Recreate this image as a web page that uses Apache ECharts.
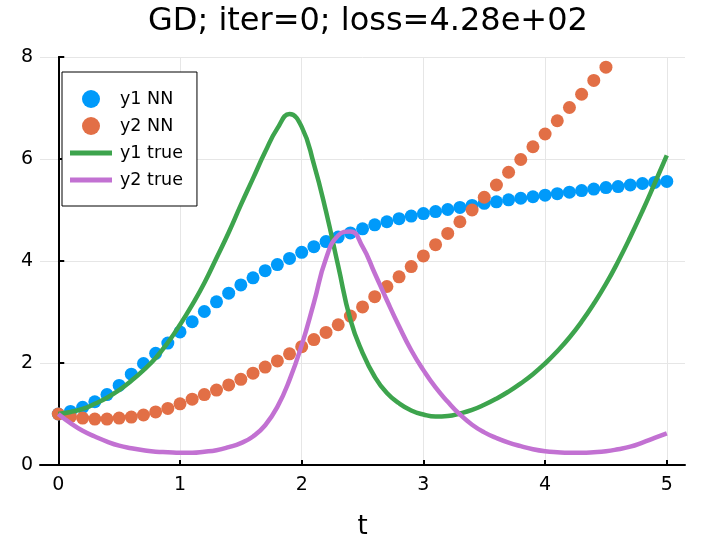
<!DOCTYPE html>
<html>
<head>
<meta charset="utf-8">
<script src="https://cdn.jsdelivr.net/npm/echarts@6/dist/echarts.min.js"></script>
<style>html,body{margin:0;padding:0;background:#fff;}#c{width:720px;height:540px;}</style>
</head>
<body>
<div id="c"></div>
<script>
// Time points
var tValues = [0,0.1,0.2,0.3,0.4,0.5,0.6,0.7,0.8,0.9,1,1.1,1.2,1.3,1.4,1.5,1.6,1.7,1.8,1.9,2,2.1,2.2,2.3,2.4,2.5,2.6,2.7,2.8,2.9,3,3.1,3.2,3.3,3.4,3.5,3.6,3.7,3.8,3.9,4,4.1,4.2,4.3,4.4,4.5,4.6,4.7,4.8,4.9,5];
// y1 NN (blue dots)
var y1NN = [1.0,1.05,1.13,1.24,1.38,1.56,1.78,1.99,2.19,2.39,2.61,2.81,3.01,3.2,3.37,3.53,3.67,3.81,3.93,4.05,4.17,4.28,4.38,4.47,4.55,4.63,4.71,4.77,4.83,4.88,4.93,4.97,5.01,5.05,5.09,5.13,5.16,5.2,5.23,5.26,5.29,5.32,5.35,5.38,5.41,5.44,5.46,5.49,5.52,5.54,5.56];
// y2 NN (orange dots) - visible up to t=4.5 (rest above the y range)
var y2NN = [1.0,0.95,0.92,0.9,0.9,0.92,0.94,0.98,1.04,1.11,1.2,1.29,1.38,1.47,1.57,1.68,1.8,1.92,2.04,2.18,2.32,2.46,2.6,2.75,2.92,3.1,3.3,3.5,3.69,3.89,4.1,4.32,4.54,4.77,5.0,5.25,5.49,5.74,5.99,6.24,6.49,6.75,7.01,7.27,7.54,7.8];
// y1 true (green line)
var y1True = [1.0,1.04,1.1,1.2,1.32,1.47,1.65,1.86,2.1,2.4,2.75,3.14,3.57,4.06,4.56,5.1,5.62,6.14,6.6,6.88,6.63,5.9,4.97,3.9,2.85,2.2,1.73,1.41,1.21,1.07,0.99,0.95,0.96,1.01,1.08,1.18,1.3,1.44,1.6,1.78,1.99,2.23,2.5,2.81,3.16,3.55,3.99,4.47,4.98,5.52,6.07];
// y2 true (purple line)
var y2True = [1.0,0.82,0.67,0.56,0.46,0.38,0.33,0.29,0.26,0.25,0.24,0.24,0.26,0.29,0.35,0.43,0.56,0.78,1.14,1.67,2.35,3.18,4.05,4.5,4.58,4.28,3.76,3.23,2.72,2.25,1.86,1.52,1.24,0.99,0.79,0.64,0.53,0.44,0.37,0.31,0.27,0.25,0.24,0.24,0.25,0.27,0.31,0.36,0.44,0.53,0.62];
var xTicks = [0,1,2,3,4,5];
var yTicks = [0,2,4,6,8];
var titleText = 'GD; iter=0; loss=4.28e+02';
var seriesNames = ['y1 NN','y2 NN','y1 true','y2 true'];

function pairs(ys){ var out=[]; for(var i=0;i<ys.length;i++){ out.push([tValues[i], ys[i]]); } return out; }

var FONT = 'DejaVu Sans';
var colors = ['#009AFA','#E26F46','#3DA44D','#C271D2'];
var lineIcon = 'path://M0,0 L42,0 L42,5 L0,5 Z';
var chart = echarts.init(document.getElementById('c'));
chart.setOption({
  animation: false,
  backgroundColor: '#ffffff',
  textStyle: { fontFamily: FONT },
  title: {
    text: titleText, left: 148, top: 6, padding: 0,
    textStyle: { fontFamily: FONT, fontSize: 32, fontWeight: 'normal', color: '#000' }
  },
  grid: [
    { left: 40, right: 35, top: 57, bottom: 75, outerBoundsMode: 'none', containLabel: false },
    { left: 58.3, right: 53.2, top: 57, bottom: 75, outerBoundsMode: 'none', containLabel: false }
  ],
  xAxis: [
    { type: 'value', gridIndex: 0, min: -0.15, max: 5.15,
      axisLine: { show: true, lineStyle: { color: '#000', width: 2 } },
      axisTick: { show: false }, axisLabel: { show: false }, splitLine: { show: false } },
    { type: 'value', gridIndex: 1, min: xTicks[0], max: xTicks[xTicks.length-1], interval: 1,
      name: 't', nameLocation: 'middle', nameGap: 49,
      nameTextStyle: { fontFamily: FONT, fontSize: 26, color: '#000' },
      axisLine: { show: false },
      axisTick: { show: true, inside: true, length: 5, lineStyle: { color: '#000', width: 2 } },
      axisLabel: { show: true, margin: 11, fontFamily: FONT, fontSize: 19, color: '#000' },
      splitLine: { show: true, lineStyle: { color: '#e6e6e6', width: 1 } } }
  ],
  yAxis: [
    { type: 'value', gridIndex: 0, min: yTicks[0], max: yTicks[yTicks.length-1], interval: 2,
      axisLine: { show: true, lineStyle: { color: '#000', width: 2 } },
      axisTick: { show: true, inside: true, length: 6, lineStyle: { color: '#000', width: 2 } },
      axisLabel: { show: true, margin: 7, fontFamily: FONT, fontSize: 19, color: '#000' },
      splitLine: { show: true, lineStyle: { color: '#e6e6e6', width: 1 } } },
    { type: 'value', gridIndex: 1, min: 0, max: 8, show: false }
  ],
  legend: {
    orient: 'vertical', left: 62, top: 72,
    padding: [18, 14, 17, 8],
    itemWidth: 42, itemHeight: 18, itemGap: 9,
    borderColor: '#000', borderWidth: 1, backgroundColor: '#fff',
    textStyle: { fontFamily: FONT, fontSize: 17.5, color: '#000', padding: [0, 0, 0, 3] },
    data: [
      { name: seriesNames[0], icon: 'circle' },
      { name: seriesNames[1], icon: 'circle' },
      { name: seriesNames[2], icon: lineIcon },
      { name: seriesNames[3], icon: lineIcon }
    ]
  },
  series: [
    { name: seriesNames[0], type: 'scatter', xAxisIndex: 1, yAxisIndex: 1, data: pairs(y1NN),
      symbol: 'circle', symbolSize: 13, itemStyle: { color: colors[0], opacity: 1 } },
    { name: seriesNames[1], type: 'scatter', xAxisIndex: 1, yAxisIndex: 1, data: pairs(y2NN),
      symbol: 'circle', symbolSize: 13, itemStyle: { color: colors[1], opacity: 1 } },
    { name: seriesNames[2], type: 'line', xAxisIndex: 1, yAxisIndex: 1, data: pairs(y1True),
      symbol: 'none', smooth: 0.5, lineStyle: { color: colors[2], width: 4.5 }, itemStyle: { color: colors[2] } },
    { name: seriesNames[3], type: 'line', xAxisIndex: 1, yAxisIndex: 1, data: pairs(y2True),
      symbol: 'none', smooth: 0.5, lineStyle: { color: colors[3], width: 4.5 }, itemStyle: { color: colors[3] } }
  ]
});
</script>
</body>
</html>
